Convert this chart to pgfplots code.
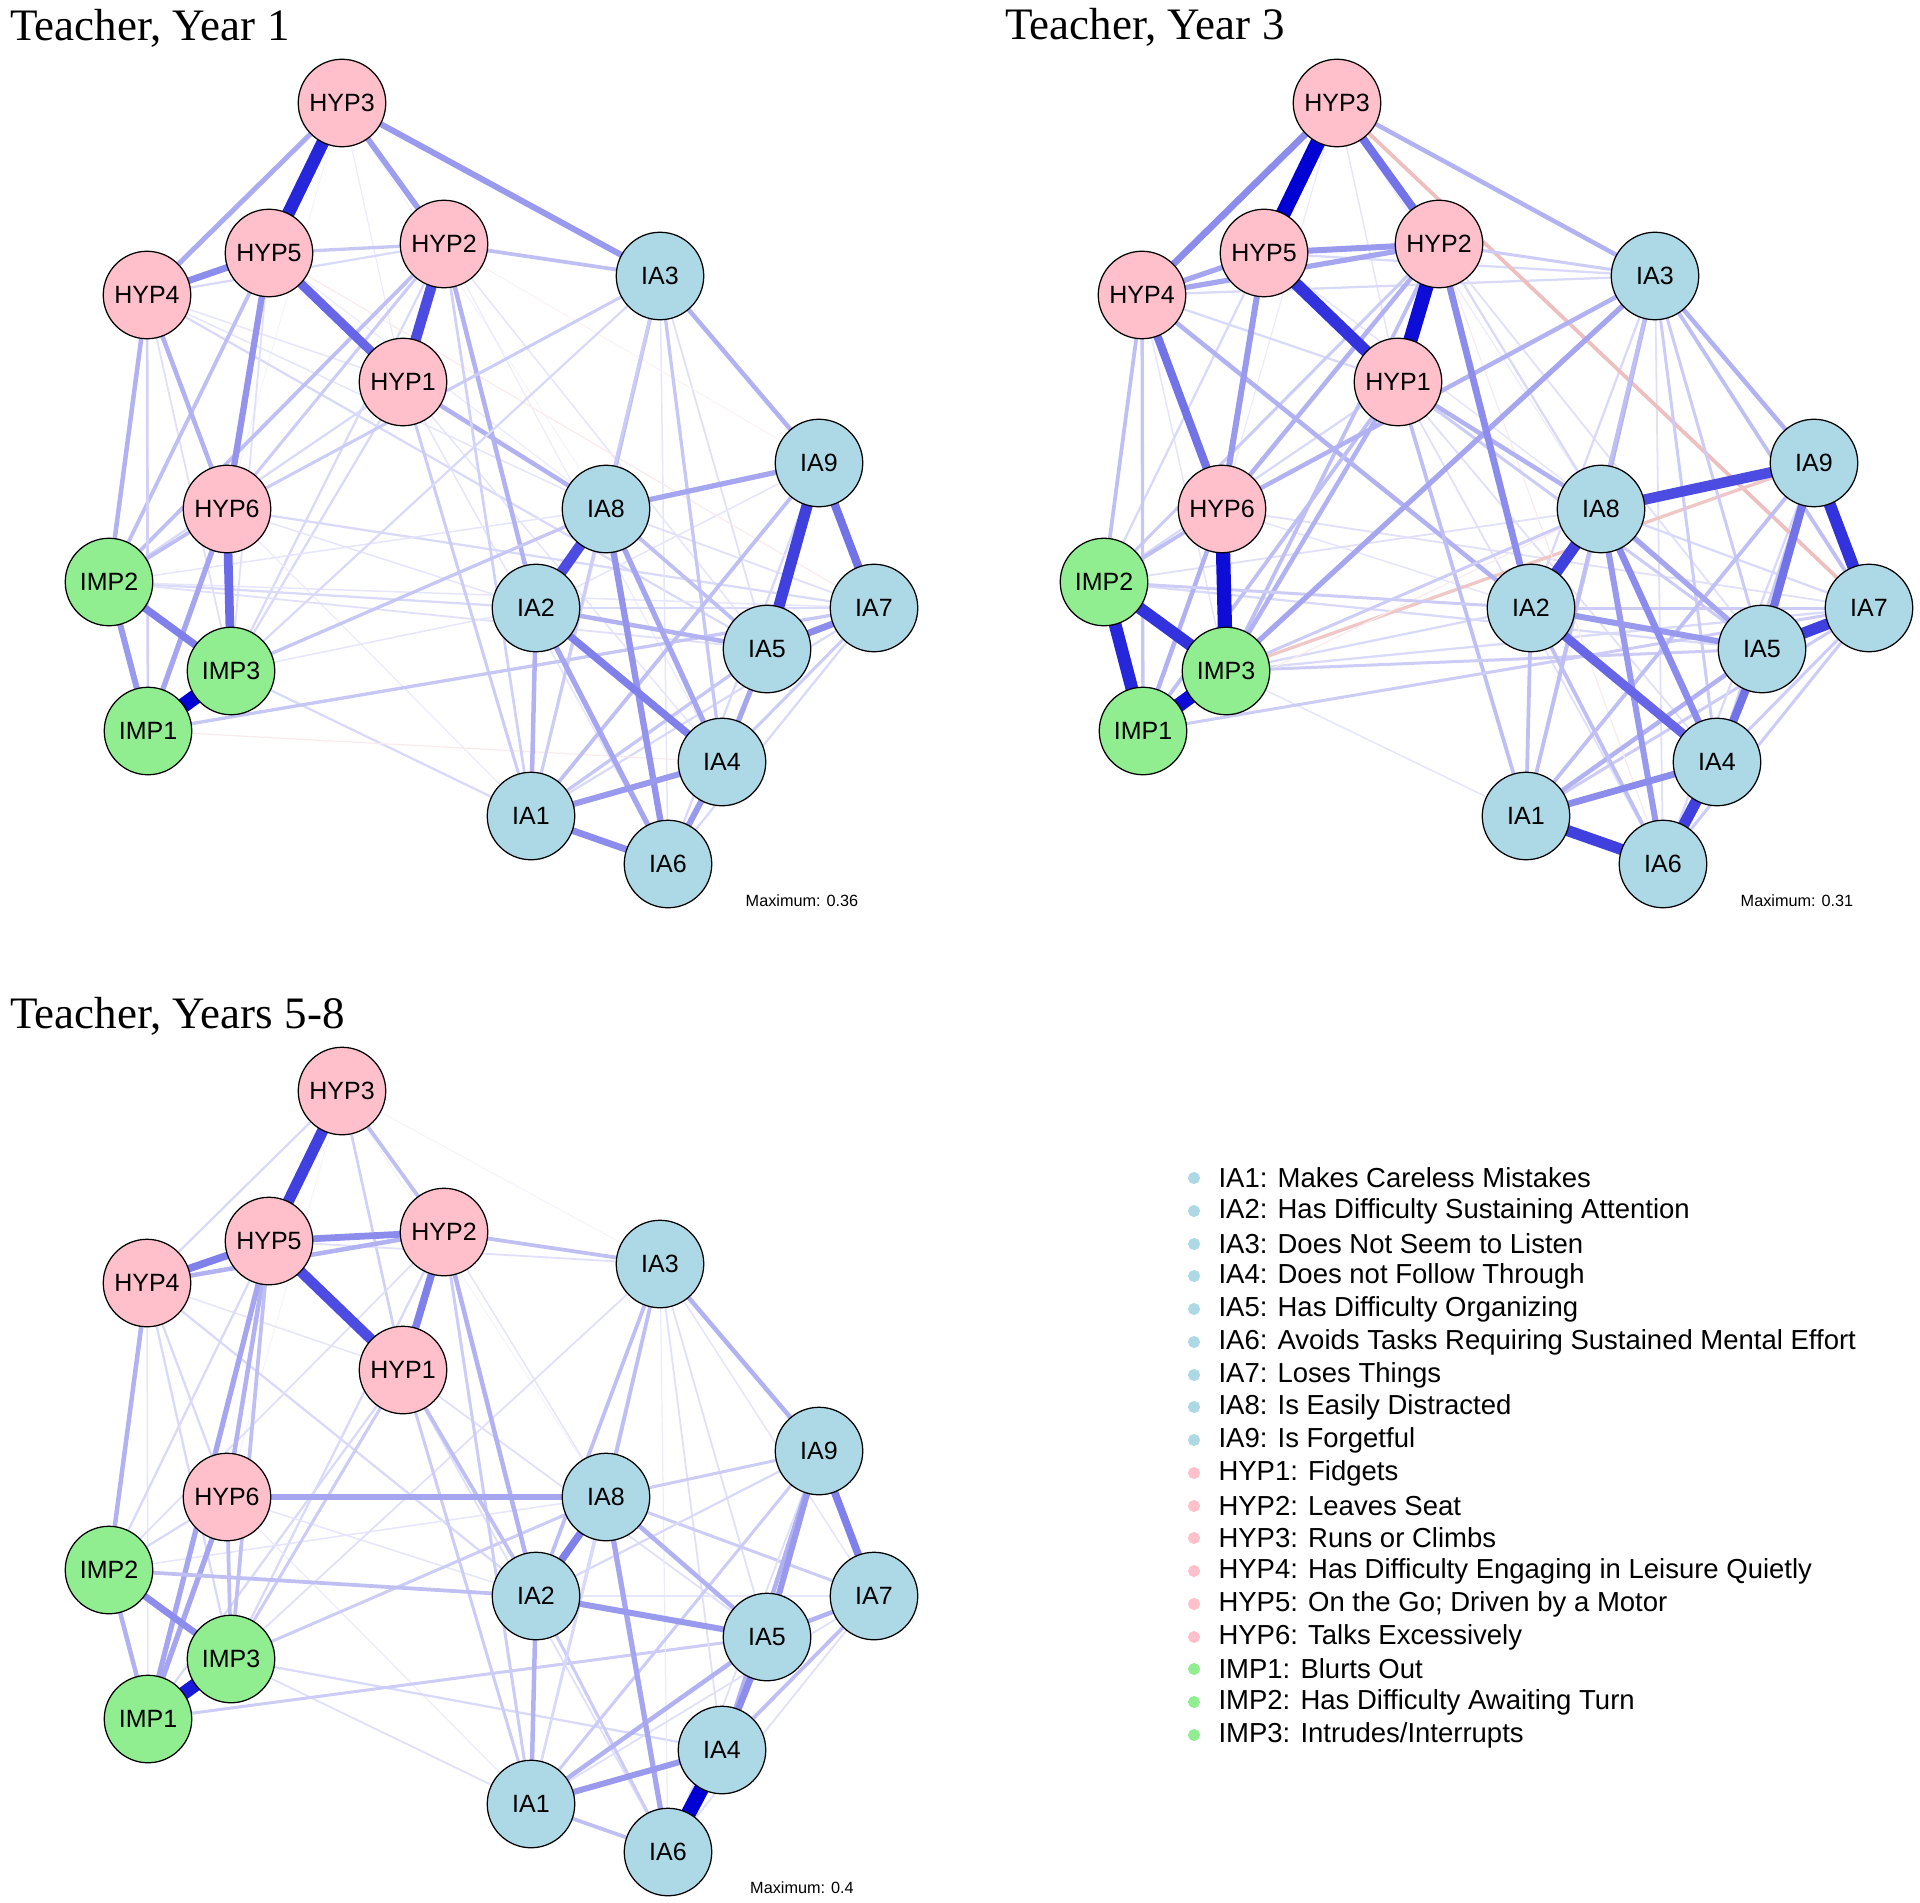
\documentclass[border=0pt]{standalone}
\usepackage{pgfplots}
\usepackage{pgfplotstable}
\pgfplotsset{compat=1.18}
\usepackage{fontspec}
\setmainfont{Liberation Serif}
\newfontfamily\lsans{Liberation Sans}

\definecolor{posc}{RGB}{0,0,213}
\definecolor{negc}{RGB}{186,0,0}
\definecolor{nodeblue}{RGB}{173,216,230}
\definecolor{nodepink}{RGB}{255,192,203}
\definecolor{nodegreen}{RGB}{144,238,144}

% a semicolon that survives pgfplots' internal point storage
\protected\def\semi{;}

% node layout (pixels of the 1920x1902 canvas, first panel; same layout in every panel)
\pgfplotstableread{
name x y
IA3 660 276
IA9 819 463
IA8 606 509
IA2 536 608
IA7 874 608
IA5 767 649
IA4 722 762
IA1 531 816
IA6 668 864
}\nodesIA
\pgfplotstableread{
name x y
HYP3 342 103
HYP5 269 253
HYP2 444 244
HYP4 147 295
HYP1 403 382
HYP6 227 509
}\nodesHYP
\pgfplotstableread{
name x y
IMP2 109 582
IMP3 231 671
IMP1 148 731
}\nodesIMP

\pgfplotstableread[col sep=comma]{
x,y,label
1194,1178,IA1: Makes Careless Mistakes
1194,1211,IA2: Has Difficulty Sustaining Attention
1194,1244,IA3: Does Not Seem to Listen
1194,1276,IA4: Does not Follow Through
1194,1309,IA5: Has Difficulty Organizing
1194,1342,IA6: Avoids Tasks Requiring Sustained Mental Effort
1194,1375,IA7: Loses Things
1194,1407,IA8: Is Easily Distracted
1194,1440,IA9: Is Forgetful
}\legIA
\pgfplotstableread[col sep=comma]{
x,y,label
1194,1473,HYP1: Fidgets
1194,1506,HYP2: Leaves Seat
1194,1538,HYP3: Runs or Climbs
1194,1571,HYP4: Has Difficulty Engaging in Leisure Quietly
1194,1604,HYP5: On the Go\semi{} Driven by a Motor
1194,1637,HYP6: Talks Excessively
}\legHYP
\pgfplotstableread[col sep=comma]{
x,y,label
1194,1669,IMP1: Blurts Out
1194,1702,IMP2: Has Difficulty Awaiting Turn
1194,1735,IMP3: Intrudes/Interrupts
}\legIMP

% store node positions as \nx@NAME / \ny@NAME
\newcommand\defnodes[1]{%
  \pgfplotstablegetrowsof{#1}%
  \pgfmathtruncatemacro\nlast{\pgfplotsretval-1}%
  \pgfplotsforeachungrouped \i in {0,...,\nlast}{%
    \pgfplotstablegetelem{\i}{name}\of#1\relax \let\nm\pgfplotsretval
    \pgfplotstablegetelem{\i}{x}\of#1\relax \expandafter\xdef\csname nx@\nm\endcsname{\pgfplotsretval}%
    \pgfplotstablegetelem{\i}{y}\of#1\relax \expandafter\xdef\csname ny@\nm\endcsname{\pgfplotsretval}%
  }}

\newcommand\wmax{6}
% edge between two nodes, weight relative to the panel maximum
\newcommand\edgeplot[4]{%
  \pgfmathsetmacro\ewd{max(0.35,#3*\wmax)}%
  \pgfmathtruncatemacro\ecl{round(#3*100)}%
  \edef\tmp{\noexpand\addplot[forget plot, line width=\ewd pt, color=#4!\ecl!white]
    coordinates {(\csname nx@#1\endcsname,\csname ny@#1\endcsname)
                 (\csname nx@#2\endcsname,\csname ny@#2\endcsname)};}%
  \tmp}
\newcommand\E[3]{\edgeplot{#1}{#2}{#3}{posc}}
\newcommand\N[3]{\edgeplot{#1}{#2}{#3}{negc}}

\pgfplotsset{
  netaxis/.style={scale only axis, width=768pt, height=760.8pt,
    hide axis, clip=false, y dir=reverse, at={(0,0)}, anchor=south west},
  netnode/.style={only marks, mark=*, mark size=17.5pt,
    mark options={draw=black, fill=#1, line width=0.5pt},
    nodes near coords, point meta=explicit symbolic,
    every node near coord/.append style={anchor=center, text=black,
      font=\lsans\fontsize{10}{12}\selectfont}},
  legdot/.style={only marks, mark=*, mark size=2.2pt,
    mark options={draw=#1, fill=#1},
    nodes near coords, point meta=explicit symbolic,
    every node near coord/.append style={anchor=west, inner sep=0pt, xshift=9.6pt,
      text=black, font=\lsans\fontsize{11}{13}\selectfont}}}

\newcommand\drawnodes{%
  \addplot[netnode=nodeblue] table[x=x, y=y, meta=name] {\nodesIA};
  \addplot[netnode=nodepink] table[x=x, y=y, meta=name] {\nodesHYP};
  \addplot[netnode=nodegreen] table[x=x, y=y, meta=name] {\nodesIMP};}

\begin{document}
\begin{tikzpicture}
\path[use as bounding box] (0,0) rectangle (768pt,760.8pt);
\defnodes{\nodesIA}
\defnodes{\nodesHYP}
\defnodes{\nodesIMP}

% ---------------- Teacher, Year 1 ----------------
\begin{axis}[netaxis, xmin=0, xmax=1920, ymin=0, ymax=1902]
\E{HYP3}{HYP1}{0.08}
\E{HYP3}{HYP6}{0.05}
\E{HYP3}{IA8}{0.05}
\E{HYP4}{HYP2}{0.15}
\E{HYP4}{IA8}{0.1}
\E{HYP4}{IA5}{0.15}
\E{HYP4}{HYP1}{0.1}
\E{HYP4}{IMP3}{0.12}
\E{HYP5}{IMP3}{0.12}
\E{HYP5}{IA8}{0.08}
\E{HYP2}{IA4}{0.08}
\E{HYP2}{IA5}{0.1}
\E{HYP2}{IMP3}{0.15}
\E{HYP1}{IMP2}{0.15}
\E{HYP1}{IMP3}{0.15}
\E{HYP1}{IA6}{0.1}
\E{HYP1}{IA4}{0.1}
\E{HYP6}{IA7}{0.15}
\E{HYP6}{IA2}{0.1}
\E{HYP6}{IA1}{0.08}
\E{IMP2}{IA2}{0.15}
\E{IMP2}{IA5}{0.12}
\E{IMP2}{IA7}{0.1}
\E{IMP2}{IA8}{0.1}
\E{IMP3}{IA1}{0.15}
\E{IMP3}{IA2}{0.1}
\E{IA3}{IA6}{0.1}
\E{IA3}{IA5}{0.12}
\E{IA7}{IA6}{0.15}
\E{IA7}{IA1}{0.15}
\E{IA7}{IA4}{0.2}
\E{IA2}{IA7}{0.15}
\E{IA8}{IA1}{0.15}
\E{IA8}{IA7}{0.12}
\E{IA9}{IA6}{0.15}
\E{IA9}{IA2}{0.1}
\N{HYP5}{IA7}{0.08}
\N{IMP1}{IA4}{0.08}
\N{HYP2}{IA9}{0.06}
\E{HYP2}{HYP6}{0.2}
\E{HYP2}{IMP2}{0.25}
\E{HYP5}{HYP2}{0.22}
\E{HYP5}{IMP2}{0.25}
\E{HYP4}{IMP1}{0.18}
\E{HYP4}{IMP2}{0.3}
\E{HYP4}{HYP6}{0.3}
\E{HYP1}{IA8}{0.3}
\E{HYP1}{IA1}{0.2}
\E{HYP2}{IA2}{0.3}
\E{HYP2}{IA1}{0.18}
\E{HYP2}{IA3}{0.25}
\E{HYP6}{IMP2}{0.25}
\E{HYP6}{IMP1}{0.35}
\E{IMP3}{IA8}{0.22}
\E{IMP1}{IA7}{0.22}
\E{IA3}{HYP6}{0.2}
\E{IA3}{IMP3}{0.15}
\E{IA3}{IA8}{0.25}
\E{IA3}{IA1}{0.2}
\E{IA3}{IA4}{0.22}
\E{IA3}{IA9}{0.3}
\E{IA9}{IA1}{0.25}
\E{IA1}{IA5}{0.22}
\E{IA8}{IA5}{0.25}
\E{IA2}{IA5}{0.3}
\E{IA2}{IA1}{0.3}
\E{IA2}{IA6}{0.35}
\E{IA8}{IA4}{0.35}
\E{IA8}{IA6}{0.42}
\E{IA8}{IA9}{0.35}
\E{IA5}{IA4}{0.35}
\E{HYP3}{HYP4}{0.33}
\E{HYP3}{HYP2}{0.38}
\E{HYP3}{IA3}{0.4}
\E{HYP5}{HYP6}{0.42}
\E{IMP2}{IMP1}{0.4}
\E{IA4}{IA6}{0.4}
\E{IA1}{IA4}{0.4}
\E{HYP5}{HYP4}{0.45}
\E{IA1}{IA6}{0.45}
\E{IA5}{IA7}{0.45}
\E{IMP2}{IMP3}{0.5}
\E{IA2}{IA4}{0.5}
\E{IA9}{IA7}{0.55}
\E{HYP6}{IMP3}{0.58}
\E{HYP5}{HYP1}{0.6}
\E{HYP2}{HYP1}{0.7}
\E{IA8}{IA2}{0.7}
\E{IA9}{IA5}{0.75}
\E{HYP3}{HYP5}{0.85}
\E{IMP1}{IMP3}{1}
\drawnodes
\node[anchor=base west, inner sep=0, font=\fontsize{18}{20}\selectfont] at (axis cs:10,40) {Teacher, Year 1};
\node[font=\lsans\fontsize{6.5}{8}\selectfont] at (axis cs:802,901) {Maximum: 0.36};
% legend
\addplot[legdot=nodeblue] table[x=x, y=y, meta=label] {\legIA};
\addplot[legdot=nodepink] table[x=x, y=y, meta=label] {\legHYP};
\addplot[legdot=nodegreen] table[x=x, y=y, meta=label] {\legIMP};
\end{axis}

% ---------------- Teacher, Year 3 ----------------
\begin{axis}[netaxis, xmin=-995, xmax=925, ymin=0, ymax=1902]
\E{HYP3}{HYP1}{0.1}
\E{HYP3}{HYP6}{0.08}
\E{HYP3}{IA8}{0.08}
\E{HYP4}{IA3}{0.15}
\E{HYP4}{IMP3}{0.1}
\E{HYP4}{HYP1}{0.15}
\E{HYP5}{IMP2}{0.15}
\E{HYP5}{IA3}{0.15}
\E{HYP5}{IA8}{0.1}
\E{HYP2}{IA5}{0.12}
\E{HYP2}{IA8}{0.15}
\E{HYP1}{IMP2}{0.15}
\E{HYP1}{IA6}{0.12}
\E{HYP1}{IA4}{0.12}
\E{HYP6}{IA7}{0.12}
\E{HYP6}{IA2}{0.1}
\E{IMP2}{IA5}{0.15}
\E{IMP2}{IA8}{0.12}
\E{IMP3}{IA2}{0.15}
\E{IMP3}{IA7}{0.15}
\E{IMP3}{IA1}{0.1}
\E{IA3}{IA6}{0.12}
\E{IA3}{IA2}{0.15}
\E{IA7}{IA6}{0.2}
\E{IA7}{IA1}{0.2}
\E{IA2}{IA7}{0.2}
\E{IA8}{IA1}{0.2}
\E{IA8}{IA7}{0.15}
\E{IA9}{IA6}{0.15}
\E{IA9}{IA4}{0.2}
\N{HYP3}{IA7}{0.25}
\N{IMP3}{IA9}{0.22}
\N{IMP1}{IA8}{0.08}
\N{HYP2}{IA6}{0.08}
\E{HYP2}{IA3}{0.2}
\E{HYP2}{HYP6}{0.3}
\E{HYP2}{IMP2}{0.2}
\E{HYP2}{IMP3}{0.25}
\E{HYP4}{IMP1}{0.22}
\E{HYP4}{IMP2}{0.25}
\E{HYP4}{IA2}{0.3}
\E{HYP4}{HYP2}{0.35}
\E{HYP4}{HYP5}{0.35}
\E{HYP6}{IMP1}{0.3}
\E{HYP6}{IMP2}{0.25}
\E{HYP1}{IA8}{0.3}
\E{HYP1}{IA1}{0.25}
\E{HYP1}{IA5}{0.2}
\E{HYP1}{IMP3}{0.3}
\E{HYP1}{IMP1}{0.25}
\E{IMP2}{IA2}{0.2}
\E{IMP3}{IA5}{0.2}
\E{IMP3}{IA8}{0.2}
\E{IMP1}{IA7}{0.2}
\E{IA3}{HYP6}{0.3}
\E{IA3}{IMP3}{0.35}
\E{IA3}{IA8}{0.3}
\E{IA3}{IA1}{0.25}
\E{IA3}{IA5}{0.2}
\E{IA3}{IA4}{0.2}
\E{IA3}{IA7}{0.25}
\E{IA3}{IA9}{0.3}
\E{HYP3}{IA3}{0.3}
\E{IA1}{IA9}{0.25}
\E{IA1}{IA5}{0.3}
\E{IA4}{IA7}{0.2}
\E{IA2}{IA1}{0.25}
\E{IA2}{IA6}{0.25}
\E{IA8}{IA5}{0.35}
\E{IA8}{IA6}{0.4}
\E{IA2}{IA5}{0.4}
\E{HYP5}{HYP6}{0.4}
\E{HYP5}{HYP2}{0.4}
\E{HYP3}{HYP4}{0.45}
\E{IA8}{IA4}{0.45}
\E{HYP2}{IA2}{0.45}
\E{IA1}{IA4}{0.45}
\E{HYP3}{HYP2}{0.55}
\E{HYP4}{HYP6}{0.55}
\E{IA9}{IA5}{0.55}
\E{IA5}{IA4}{0.55}
\E{IA2}{IA4}{0.6}
\E{IA8}{IA9}{0.7}
\E{IA8}{IA2}{0.75}
\E{IA1}{IA6}{0.75}
\E{IA4}{IA6}{0.75}
\E{IA5}{IA7}{0.75}
\E{HYP5}{HYP1}{0.8}
\E{IMP2}{IMP3}{0.8}
\E{IA9}{IA7}{0.8}
\E{IMP2}{IMP1}{0.85}
\E{HYP2}{HYP1}{0.95}
\E{HYP6}{IMP3}{0.95}
\E{IMP1}{IMP3}{0.95}
\E{HYP3}{HYP5}{1}
\drawnodes
\node[anchor=base west, inner sep=0, font=\fontsize{18}{20}\selectfont] at (axis cs:10,40) {Teacher, Year 3};
\node[font=\lsans\fontsize{6.5}{8}\selectfont] at (axis cs:802,901) {Maximum: 0.31};
\end{axis}

% ---------------- Teacher, Years 5-8 ----------------
\begin{axis}[netaxis, xmin=0, xmax=1920, ymin=-988, ymax=914]
\E{HYP3}{IA3}{0.05}
\E{HYP3}{HYP6}{0.05}
\E{HYP3}{IA8}{0.05}
\E{HYP3}{HYP4}{0.15}
\E{HYP3}{HYP1}{0.18}
\E{HYP4}{HYP1}{0.1}
\E{HYP4}{IA2}{0.15}
\E{HYP4}{IMP3}{0.15}
\E{HYP4}{HYP6}{0.15}
\E{HYP4}{IMP1}{0.1}
\E{HYP5}{IMP2}{0.15}
\E{HYP5}{IA3}{0.12}
\E{HYP2}{IA8}{0.1}
\E{HYP2}{IMP3}{0.15}
\E{HYP2}{IMP2}{0.12}
\E{HYP1}{IMP1}{0.15}
\E{HYP1}{IA6}{0.12}
\E{HYP1}{IA5}{0.12}
\E{HYP6}{IA2}{0.1}
\E{HYP6}{IA1}{0.08}
\E{IMP2}{IA8}{0.1}
\E{IMP2}{HYP6}{0.15}
\E{IMP3}{IA1}{0.12}
\E{IMP3}{IA4}{0.15}
\E{IMP3}{IA8}{0.2}
\E{IMP1}{IA5}{0.2}
\E{IA3}{IA1}{0.15}
\E{IA3}{IA4}{0.12}
\E{IA3}{IA5}{0.12}
\E{IA3}{IA6}{0.08}
\E{IA3}{IA7}{0.1}
\E{IA3}{IMP3}{0.12}
\E{IA7}{IA1}{0.12}
\E{IA7}{IA6}{0.12}
\E{IA7}{IA4}{0.25}
\E{IA2}{IA6}{0.2}
\E{IA2}{IA7}{0.1}
\E{IA8}{IA1}{0.15}
\E{IA8}{IA7}{0.2}
\E{IA9}{IA1}{0.2}
\E{IA9}{IA2}{0.15}
\E{IA9}{IA6}{0.12}
\E{IA1}{IA5}{0.3}
\E{HYP2}{IA3}{0.25}
\E{HYP2}{IA2}{0.3}
\E{HYP2}{IA1}{0.2}
\E{HYP1}{IA2}{0.25}
\E{HYP1}{IA1}{0.2}
\E{HYP1}{IMP3}{0.2}
\E{HYP4}{HYP2}{0.3}
\E{HYP4}{IMP2}{0.3}
\E{HYP5}{HYP6}{0.3}
\E{HYP5}{IMP3}{0.25}
\E{HYP6}{IMP3}{0.25}
\E{HYP6}{IMP1}{0.35}
\E{HYP5}{IMP1}{0.35}
\E{IMP2}{IA2}{0.25}
\E{IMP2}{IMP1}{0.3}
\E{IA3}{IA9}{0.3}
\E{IA3}{IA8}{0.25}
\E{IA3}{IA2}{0.25}
\E{HYP3}{HYP2}{0.25}
\E{IA8}{IA9}{0.2}
\E{IA8}{IA5}{0.3}
\E{IA8}{IA6}{0.35}
\E{IA2}{IA1}{0.3}
\E{IA1}{IA6}{0.25}
\E{IA7}{IA5}{0.3}
\E{IA9}{IA4}{0.3}
\E{HYP6}{IA8}{0.35}
\E{IA9}{IA5}{0.4}
\E{IA2}{IA5}{0.4}
\E{IA1}{IA4}{0.4}
\E{IMP2}{IMP3}{0.45}
\E{IA5}{IA4}{0.45}
\E{HYP5}{HYP2}{0.45}
\E{HYP5}{HYP4}{0.5}
\E{HYP2}{HYP1}{0.5}
\E{IA8}{IA2}{0.5}
\E{IA9}{IA7}{0.5}
\E{HYP5}{HYP1}{0.7}
\E{HYP3}{HYP5}{0.75}
\E{IMP1}{IMP3}{0.9}
\E{IA4}{IA6}{1}
\drawnodes
\node[anchor=base west, inner sep=0, font=\fontsize{18}{20}\selectfont] at (axis cs:10,40) {Teacher, Years 5-8};
\node[font=\lsans\fontsize{6.5}{8}\selectfont] at (axis cs:802,900) {Maximum: 0.4};
\end{axis}
\end{tikzpicture}
\end{document}
